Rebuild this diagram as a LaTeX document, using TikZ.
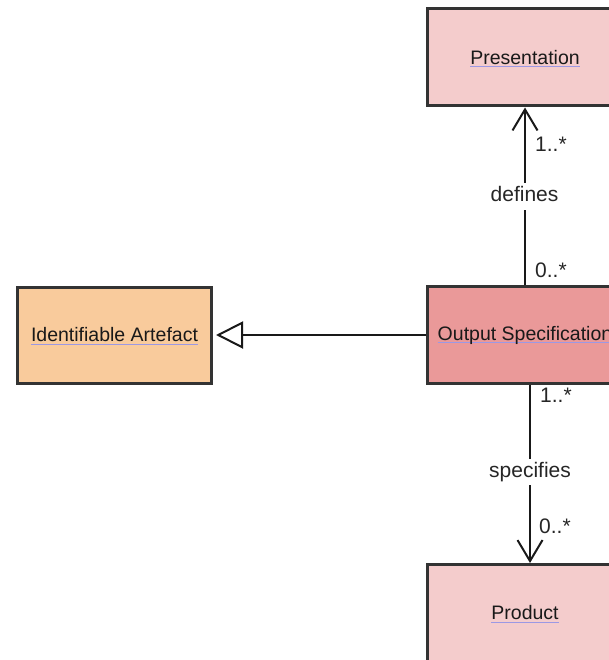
\documentclass[tikz,border=0pt]{standalone}
\usepackage{fontspec}
\setmainfont{Liberation Sans}
\usetikzlibrary{arrows.meta}
\definecolor{bordc}{HTML}{333333}
\definecolor{pinkc}{HTML}{F4CCCC}
\definecolor{redc}{HTML}{EA9999}
\definecolor{orangec}{HTML}{F9CB9C}
\definecolor{ulc}{HTML}{9C98E4}
\newlength\ulwidth
\newcommand\ultext[1]{\settowidth\ulwidth{#1}\smash{\rlap{\textcolor{ulc}{\rule[-3pt]{\ulwidth}{1.3pt}}}}#1}
\tikzset{
  classbox/.style={draw=bordc, line width=3pt, minimum width=195pt, minimum height=97pt,
    inner sep=0pt, font=\fontsize{19.5}{23}\selectfont, text=black!90},
  assoc/.style={draw=black!90, line width=2pt},
  mult/.style={inner sep=0pt, anchor=base west, font=\fontsize{21}{25}\selectfont, text=black!85},
  rolelbl/.style={fill=white, inner xsep=2pt, inner ysep=3pt, text height=15pt, text depth=5pt,
    anchor=base, font=\fontsize{21}{25}\selectfont, text=black!85}
}
\begin{document}
\begin{tikzpicture}[x=1pt,y=-1pt]
\useasboundingbox (0,0) rectangle (609,660);
\clip (0,0) rectangle (609,660);
\node[classbox, fill=pinkc] (pres) at (525,57.5) {\ultext{Presentation}};
\node[classbox, fill=redc] (os) at (525,335) {\ultext{Output Specification}};
\node[classbox, fill=orangec, minimum width=194pt, minimum height=96pt] (ia) at (114.5,335) {\ultext{Identifiable Artefact}};
\node[classbox, fill=pinkc] (prod) at (525,613) {\ultext{Product}};
% associations
\draw[assoc, -{Straight Barb[length=21pt,width=25pt,line width=2pt]}] (os.north) -- (pres.south);
\draw[assoc, -{Straight Barb[length=21pt,width=25pt,line width=2pt]}] ([xshift=5pt]os.south) -- ([xshift=5pt]prod.north);
% generalization
\draw[assoc, -{Triangle[open,length=27pt,width=27pt,line width=2pt,fill=white]}] (os.west) -- ([xshift=3pt]ia.east);
% labels
\node[mult] (m1) at (535,152) {1..*};
\node[mult] (m2) at (535,277) {0..*};
\node[rolelbl] (r1) at (524.5,201.5) {defines};
\node[mult] (m3) at (540,402) {1..*};
\node[rolelbl] (r2) at (530,477) {specifies};
\node[mult] (m4) at (539,533) {0..*};
\end{tikzpicture}
\end{document}
